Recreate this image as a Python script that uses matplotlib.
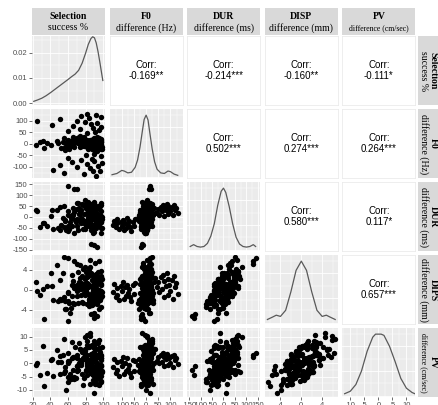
import matplotlib.pyplot as plt

plt.rcParams['axes.unicode_minus'] = False

# central cloud
sel_core = [88, 92, 75, 95, 83, 67, 90, 98, 86, 72,
            94, 81, 89, 63, 97, 85, 78, 91, 58, 87,
            93, 70, 99, 84, 76, 89, 96, 80, 52, 88,
            92, 68, 86, 94, 79, 90, 62, 97, 83, 88,
            74, 91, 85, 47, 95, 82, 89, 71, 93, 87,
            65, 98, 84, 77, 90, 56, 92, 81, 95, 88,
            73, 91, 86, 60, 97, 83, 89, 69, 94, 79,
            41, 90, 87, 96, 80, 66, 92, 85, 99, 76,
            88, 54, 93, 82, 89, 71, 95, 84, 36, 91,
            78, 87, 97, 64, 90, 86, 74, 93, 81, 28,
            88, 94, 61, 85, 92, 77, 89, 96, 70, 83,
            49, 91, 87, 98, 79, 86, 24, 90, 75, 95,
            84, 67, 92, 88, 32, 80, 93, 57, 97, 82]
f0_core = [2, -8, 12, -3, 6, -15, 18, 0, -5, 22,
           -20, 4, 9, -10, 14, -2, 28, -12, 1, 7,
           -6, 16, -25, 3, -9, 11, -1, 5, -18, 20,
           -4, 8, -14, 25, -7, 0, 13, -22, 6, -3,
           35, -30, 2, 10, -11, 17, -6, 4, -16, 9,
           -2, 19, -9, 1, 24, -28, 7, -13, 15, -5,
           31, -19, 3, -8, 10, -24, 0, 21, -10, 5,
           -4, 13, -17, 8, -1, 27, -7, 2, -15, 18,
           -3, 6, -32, 11, -9, 4, 23, -20, 2, 9,
           -12, 16, -6, 12, -26, 1, -14, 30, -4, 8,
           -10, 5, -21, 14, -2, 19, -8, 0, 26, -16,
           4, 11, -23, 7, -1, 17, -6, 3, -11, 9,
           -18, 1, 20, -4, 12, -8, 2, -13, 6, -3]
dur_core = [32, -31, -30, 43, 15, 23, -6, -50, 21, 13,
            -1, -37, 62, -3, -24, 18, 12, 30, -59, 6,
            -35, 63, -10, -13, 58, -36, 4, 39, -39, -39,
            17, -14, 34, 50, -56, 70, -25, -3, 0, -72,
            18, 11, -43, 33, -9, -16, 50, -62, 7, 47,
            -42, 25, 23, -54, 59, -17, -14, 50, -23, 21,
            40, -45, -58, 29, -7, 31, 20, -23, -13, 79,
            2, -40, 11, 51, -31, 7, -51, 57, -2, -11,
            38, -5, -6, -26, 8, 63, -42, -41, -43, 37,
            -30, 48, -75, 10, 24, -34, 19, 14, 62, -44,
            47, -1, -57, 36, -22, 55, -71, 10, -9, 67,
            -52, 29, -3, -19, 49, 4, 30, -43, -4, -23,
            16, -74, 41, 7, -30, 39, -13, -15, 65, -37]
disp_core = [0.1, 0.4, -1.1, -0.4, 3.4, 0.4, 2.8, -1.5, -1.3, 1.1,
             2.2, -2.8, 0.8, -3.6, -0.3, 2.9, -0.7, 5.3, -3.8, -1.7,
             -1.0, 0.4, 2.1, -2.1, 2.7, 1.4, -2.0, 3.6, -2.0, 0.6,
             -1.8, 0.8, 0.8, 3.5, -1.0, 2.2, -4.8, 2.4, 0.6, -2.8,
             2.4, -2.0, -2.0, 4.9, -1.8, 1.3, 1.3, -2.7, -2.8, 2.0,
             -1.3, -0.7, 4.1, -2.7, 2.5, -3.9, 1.0, 2.5, 2.1, -1.5,
             1.5, -1.7, -1.5, -0.7, 2.5, 1.1, -2.5, 0.7, -2.2, 4.6,
             3.4, -2.0, -1.4, 1.5, -0.1, -2.7, -1.8, 5.9, -0.4, -2.4,
             0.7, 3.4, -2.7, -0.6, -2.4, 3.5, -0.1, -3.2, 0.7, -1.3,
             0.3, -0.7, -3.5, 2.9, -0.7, -3.1, 5.0, -2.0, 2.7, -1.1,
             0.6, 1.4, -2.7, -1.3, 2.2, 4.2, -2.2, -1.1, -1.3, 2.8,
             -2.2, 1.3, -3.1, 1.1, 1.0, 3.1, 1.5, 1.1, 1.3, -3.8,
             -2.5, -2.8, 3.1, -0.1, 0.1, -0.4, 1.7, -2.2, 3.8, 1.1]
pv_core = [3.6, -3.6, 0.3, 4.8, 1.3, -5.0, 4.3, 2.0, -3.8, 7.7,
           -1.5, -1.1, 6.7, -5.9, -6.7, 6.6, 3.9, 5.2, -10.2, 1.1,
           2.9, -2.8, -3.1, -1.4, 4.3, -3.1, 3.6, 2.0, 0.6, -6.3,
           -4.9, 6.2, -3.1, 7.7, 4.6, -3.2, -4.2, -0.6, 0.1, 0.8,
           5.3, 1.4, -7.6, 5.0, -5.7, 8.4, -3.9, -2.4, -2.0, 6.7,
           -5.6, 2.7, 5.9, -8.3, 8.5, -2.8, -5.2, 2.9, 5.6, -3.6,
           0.0, -7.6, 1.7, 0.7, -1.0, 6.2, -2.9, -5.7, -0.4, 9.9,
           1.3, 3.1, -4.1, -2.5, 3.2, -2.7, -6.3, 10.2, 5.9, -4.2,
           6.0, 2.9, -0.7, -4.3, -2.0, -0.7, 5.7, -2.2, -3.8, -2.5,
           -5.5, 1.0, -7.1, 8.0, -1.5, -0.4, 5.2, -7.6, 10.5, -4.5,
           2.1, -3.8, 1.0, 1.1, 0.4, 2.1, -7.1, 4.2, -1.1, 5.9,
           0.4, -2.2, -2.7, -4.8, 5.5, 3.2, -0.8, 6.4, 0.0, -8.3,
           -2.4, -5.9, 7.4, -4.3, 6.3, -2.5, -2.8, -1.3, 2.1, 6.7]

# low F0 group
sel_left = [92, 78, 55, 88, 96, 43, 85, 70, 94, 51, 82, 99, 65, 90, 75, 87, 60, 97, 80, 89]
f0_left = [-138, -130, -125, -120, -118, -112, -105, -100, -96, -92,
           -88, -84, -80, -75, -70, -65, -60, -55, -50, -45]
dur_left = [-35, -20, -45, -10, -30, -55, -25, -40, -15, -60,
            -30, -50, -5, -35, -20, -45, -65, -25, -40, -10]
disp_left = [-0.5, 1.2, -1.5, 0.3, -1.0, -2.0, 0.8, -0.2, 1.6, -1.8,
             0.5, -1.2, 1.0, -0.6, 0.2, -1.4, -2.2, 0.9, -0.8, 1.4]
pv_left = [-1.5, 1.5, -3.5, 0.5, -2.5, -4.8, 1.0, -1.0, 2.2, -4.0,
           0.0, -3.0, 1.8, -2.0, -0.5, -3.8, -5.2, 1.2, -2.8, 0.8]

# high F0 group
sel_right = [82, 91, 60, 95, 74, 88, 98, 66, 42, 86, 93, 79, 70, 25, 51, 84, 97, 75, 92, 82]
f0_right = [45, 50, 55, 60, 65, 68, 72, 75, 80, 85,
            88, 92, 96, 100, 105, 110, 115, 120, 122, 130]
dur_right = [20, 35, 10, 45, 25, 55, 5, 40, 30, 60, 15, 50, 35, 25, 45, 10, 55, 30, 40, 20]
disp_right = [0.5, 1.5, -0.5, 2.5, 0.2, 3.0, -1.5, 1.8, 0.8, 3.3,
              -1.0, 2.2, 1.0, -0.2, 2.0, -1.8, 2.8, 0.6, 1.4, -0.8]
pv_right = [1.0, 2.2, 0.0, 3.0, 0.5, 3.7, -1.2, 2.5, 1.5, 3.5,
            -0.5, 2.8, 1.8, 0.2, 2.6, -1.5, 3.2, 1.2, 2.0, -0.2]

# stray points
sel_out = [60, 67, 70, 86, 90, 93, 85, 90, 33, 60, 55, 95]
f0_out = [17, 12, 20, -17, -12, -20, -15, 15, -20, -5, 25, 10]
dur_out = [140, 130, 128, -122, -130, -138, -17, 13, -30, -40, 50, 35]
disp_out = [6.3, 5.7, 5.2, -5.0, -5.7, -5.3, 4.5, -4.7, -6.0, -6.3, 6.5, 5.8]
pv_out = [3.9, 2.2, 3.0, -1.0, -4.4, -2.5, 11.5, -11.3, -8.5, -7.0, 9.0, 8.6]

sel = sel_core + sel_left + sel_right + sel_out
f0 = f0_core + f0_left + f0_right + f0_out
dur = dur_core + dur_left + dur_right + dur_out
disp = disp_core + disp_left + disp_right + disp_out
pv = pv_core + pv_left + pv_right + pv_out

# density curves
sel_dx = [21, 25, 30, 35, 40, 45, 50, 55, 60, 64, 68, 72, 76, 80, 83, 86, 88, 90, 92, 94, 96, 98, 99.5]
sel_dy = [0.0008, 0.0013, 0.002, 0.003, 0.0042, 0.0055, 0.0068, 0.0081, 0.0094, 0.0105, 0.0115,
          0.013, 0.0158, 0.0198, 0.0232, 0.0255, 0.0262, 0.0258, 0.0238, 0.0205, 0.0165, 0.0122, 0.009]
f0_dx = [-140, -120, -100, -90, -75, -60, -45, -35, -25, -15, -8, 0, 8, 15, 25, 35, 45, 60, 75, 90, 100, 115, 130]
f0_dy = [0.03, 0.05, 0.10, 0.09, 0.06, 0.07, 0.15, 0.27, 0.48, 0.75, 0.93, 1.0, 0.92, 0.72, 0.45, 0.24,
         0.12, 0.06, 0.05, 0.09, 0.08, 0.04, 0.02]
dur_dx = [-145, -130, -115, -100, -85, -70, -55, -40, -25, -10, 0, 10, 25, 40, 55, 70, 85, 100, 115, 130, 140]
dur_dy = [0.05, 0.08, 0.05, 0.04, 0.05, 0.10, 0.22, 0.42, 0.72, 0.95, 1.0, 0.93, 0.7, 0.42,
          0.2, 0.09, 0.05, 0.04, 0.05, 0.08, 0.05]
disp_dx = [-6.5, -5.5, -4.8, -4, -3, -2, -1, 0, 1, 2, 3, 4, 4.8, 5.5, 6.5]
disp_dy = [0.05, 0.09, 0.12, 0.1, 0.2, 0.5, 0.85, 1.0, 0.85, 0.5, 0.2, 0.1, 0.12, 0.09, 0.05]
pv_dx = [-12, -10, -8, -6, -4, -2, -1, 1, 2, 4, 6, 8, 10, 12, 13]
pv_dy = [0.03, 0.07, 0.18, 0.4, 0.72, 0.95, 1.0, 1.0, 0.98, 0.8, 0.55, 0.28, 0.12, 0.05, 0.03]

top_bold = ["Selection", "F0", "DUR", "DISP", "PV"]
side_bold = ["Selection", "F0", "DUR", "DIPS", "PV"]
units = ["success %", "difference (Hz)", "difference (ms)", "difference (mm)", "difference (cm/sec)"]

corr_pairs = [(0, 1), (0, 2), (0, 3), (0, 4), (1, 2), (1, 3), (1, 4), (2, 3), (2, 4), (3, 4)]
corr_text = ["-0.169**", "-0.214***", "-0.160**", "-0.111*", "0.502***",
             "0.274***", "0.264***", "0.580***", "0.117*", "0.657***"]

data = [sel, f0, dur, disp, pv]
dens = [(sel_dx, sel_dy), (f0_dx, f0_dy), (dur_dx, dur_dy), (disp_dx, disp_dy), (pv_dx, pv_dy)]
lims = [(19, 102), (-150, 150), (-158, 160), (-7, 7), (-12.8, 13.2)]
major = [[20, 40, 60, 80, 100], [-100, -50, 0, 50, 100], [-150, -100, -50, 0, 50, 100, 150],
         [-4, 0, 4], [-10, -5, 0, 5, 10]]
minor = [[30, 50, 70, 90], [-125, -75, -25, 25, 75, 125], [-125, -75, -25, 25, 75, 125],
         [-6, -2, 2, 6], [-12.5, -7.5, -2.5, 2.5, 7.5, 12.5]]

W, H = 439, 405
fig = plt.figure(figsize=(W / 100, H / 100), dpi=100)

col_x = [32, 109.6, 187.2, 264.8, 342.4]
row_y = [36, 109, 182, 255, 328]
pw, ph = 73, 69.4

tick_font = dict(family="Liberation Sans", size=5.5, color="#4D4D4D")


def add_ax(x, y, w, h):
    return fig.add_axes([x / W, 1 - (y + h) / H, w / W, h / H])


def style_grid(ax, xmaj, xmin, ymaj, ymin):
    ax.set_facecolor("#EBEBEB")
    for s in ax.spines.values():
        s.set_visible(False)
    ax.set_xticks(xmaj)
    ax.set_xticks(xmin, minor=True)
    ax.set_yticks(ymaj)
    ax.set_yticks(ymin, minor=True)
    ax.grid(which="major", color="white", lw=0.6)
    ax.grid(which="minor", color="white", lw=0.3)
    ax.set_axisbelow(True)
    ax.tick_params(which="minor", length=0)
    ax.tick_params(which="major", length=2, width=0.5, color="#333333", pad=1.2)


for i in range(5):
    for j in range(5):
        ax = add_ax(col_x[j], row_y[i], pw, ph)
        if i < j:
            ax.set_xticks([])
            ax.set_yticks([])
            for s in ax.spines.values():
                s.set_color("#EBEBEB")
                s.set_linewidth(0.6)
            k = corr_pairs.index((i, j))
            ax.text(0.5, 0.5, "Corr:\n" + corr_text[k], ha="center", va="center",
                    fontsize=7, family="Liberation Sans", linespacing=1.1, transform=ax.transAxes)
            continue
        if i == j:
            dx, dy = dens[i]
            if i == 0:
                ylim = (-0.0008, 0.0265)
                ymaj, ymin = [0, 0.01, 0.02], [0.005, 0.015, 0.025]
            else:
                ylim = (-0.03, 1.1)
                ymaj, ymin = [0, 0.4, 0.8], [0.2, 0.6, 1.0]
            style_grid(ax, major[j], minor[j], ymaj, ymin)
            ax.plot(dx, dy, color="#595959", lw=0.9)
        else:
            ylim = lims[i]
            style_grid(ax, major[j], minor[j], major[i], minor[i])
            ax.scatter(data[j], data[i], s=15, color="black", linewidths=0)
        ax.set_xlim(lims[j])
        ax.set_ylim(ylim)
        if j == 0:
            if i == 0:
                ax.set_yticklabels(["0.00", "0.01", "0.02"], **tick_font)
            else:
                ax.set_yticklabels([str(v) for v in major[i]], **tick_font)
        else:
            ax.tick_params(axis="y", which="major", length=0, labelleft=False)
        if i == 4:
            ax.set_xticklabels([str(v) for v in major[j]], **tick_font)
        else:
            ax.tick_params(axis="x", which="major", length=0, labelbottom=False)

# strips on top
for j in range(5):
    st = add_ax(col_x[j], 8, pw, 27)
    st.set_facecolor("#D9D9D9")
    st.set_xticks([])
    st.set_yticks([])
    for s in st.spines.values():
        s.set_visible(False)
    st.text(0.5, 0.70, top_bold[j], ha="center", va="center", fontsize=7,
            fontweight="bold", family="Liberation Serif", transform=st.transAxes)
    st.text(0.5, 0.26, units[j], ha="center", va="center", fontsize=7 if j < 4 else 5.6,
            family="Liberation Serif", transform=st.transAxes)

# strips on the right
for i in range(5):
    st = add_ax(418, row_y[i], 30, ph)
    st.set_facecolor("#D9D9D9")
    st.set_xticks([])
    st.set_yticks([])
    for s in st.spines.values():
        s.set_visible(False)
    st.text(0.5, 0.5, side_bold[i], ha="center", va="center", rotation=-90, fontsize=7,
            fontweight="bold", family="Liberation Serif", transform=st.transAxes)
    st.text(0.2, 0.5, units[i], ha="center", va="center", rotation=-90,
            fontsize=7 if i < 4 else 5.6, family="Liberation Serif", transform=st.transAxes)

fig.savefig("out.png", dpi=100)
